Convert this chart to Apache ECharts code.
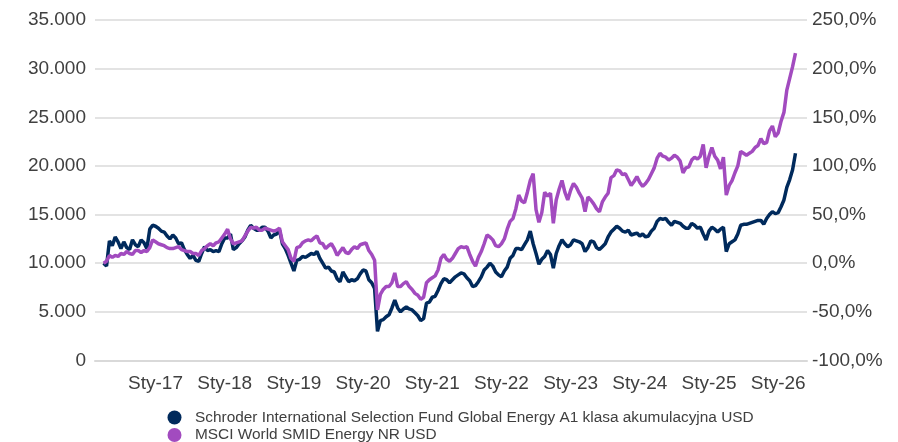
<!DOCTYPE html>
<html>
<head>
<meta charset="utf-8">
<script src="https://cdn.jsdelivr.net/npm/echarts@6/dist/echarts.min.js"></script>
<style>
html,body{margin:0;padding:0;background:#fff;}
#chart{width:898px;height:442px;}
</style>
</head>
<body>
<div id="chart"></div>
<script>
// semi-monthly points, Apr 2016 .. Apr 2026, value of 10 000 invested
var fund = [
  10000, 9700, 12300, 11800, 12700, 12200, 11500, 12200, 11600, 11400,
  12400, 11900, 11700, 12400, 12100, 11500, 13500, 13900, 13800, 13600,
  13300, 13200, 12800, 12500, 12900, 12600, 12000, 12100, 11400, 10900,
  10500, 10800, 10300, 10200, 11000, 11700, 11300, 11400, 11200, 11300,
  11200, 12000, 12600, 12600, 13000, 11400, 11600, 12000, 12300, 12700,
  13400, 13900, 13600, 13400, 13400, 13700, 13700, 13300, 12600, 12900,
  13000, 13400, 12000, 11500, 10800, 10000, 9200, 10300, 10400, 10700,
  10600, 10800, 11000, 10900, 11200, 10500, 10000, 9500, 9600, 9200,
  9100, 8400, 8100, 9100, 8600, 8100, 8300, 8200, 8400, 8900,
  9300, 9200, 8300, 8000, 7400, 3000, 4100, 4200, 4500, 4700,
  5400, 6200, 5400, 5000, 5300, 5500, 5300, 5200, 4900, 4600,
  4100, 4300, 5900, 6000, 6500, 6600, 7200, 7900, 8400, 8300,
  8000, 8300, 8600, 8800, 9000, 8900, 8500, 8200, 7600, 7700,
  8100, 8600, 9300, 9600, 10000, 9700, 9100, 8800, 8600, 9200,
  9600, 10500, 10800, 11500, 11500, 11400, 11900, 12400, 13300, 12000,
  11000, 9900, 10400, 10700, 11300, 10900, 9500, 11000, 11800, 12400,
  12000, 11700, 11900, 12400, 12300, 12200, 12000, 11200, 11600, 12300,
  12200, 11600, 11400, 11700, 12000, 12700, 13200, 13500, 13800, 13600,
  13300, 13200, 13400, 12900, 13000, 13100, 12800, 13000, 12700, 12800,
  13300, 13600, 14300, 14600, 14500, 14600, 14200, 13900, 14300, 14200,
  14100, 13800, 13600, 13600, 14100, 13900, 13600, 13700, 13000, 12400,
  13300, 13700, 13500, 13200, 13500, 13700, 11200, 12000, 12200, 12400,
  13000, 13900, 14000, 14000, 14100, 14200, 14300, 14400, 14400, 14000,
  14600, 15000, 15300, 15100, 15200, 15800, 16500, 17800, 18600, 19600,
  21300
];
var bench = [
  10000, 10200, 10800, 10600, 10800, 10700, 11000, 10900, 11200, 11000,
  10900, 11300, 11300, 11100, 11300, 11200, 11600, 12400, 12200, 12000,
  11900, 11800, 11600, 11500, 11500, 11600, 11700, 11400, 11300, 11200,
  11200, 11000, 11000, 10800, 11300, 11500, 11800, 12000, 11800, 12100,
  12200, 12600, 13000, 13500, 12500, 12000, 12100, 12200, 12300, 12800,
  13300, 13700, 13600, 13700, 13400, 13400, 13600, 13500, 13400, 13300,
  13400, 13600, 12200, 11800, 11400, 10500, 10200, 11600, 11700, 12100,
  12300, 12400, 12300, 12600, 12800, 12100, 12000, 11500, 11800, 12000,
  11500, 10800, 11200, 11600, 11100, 11000, 11400, 11700, 11500, 11900,
  12000, 12100, 11300, 10900, 10300, 5200, 6800, 7300, 7600, 7600,
  8000, 9000, 7600, 7600, 7900, 8100, 7600, 7300, 6900, 6700,
  6300, 6500, 8000, 8300, 8500, 8700, 9300, 10500, 10900, 10400,
  10200, 10500, 11000, 11500, 11700, 11600, 11700, 10900, 10200, 9700,
  10600, 11200, 12000, 12900, 12700, 12400, 11800, 11700, 12000, 12500,
  13500, 14300, 14600, 15600, 17000, 16400, 16200, 17300, 18500, 19200,
  15500, 14200, 15200, 17300, 16900, 17200, 14100, 16500, 17600, 18500,
  17300, 16500, 17500, 18200, 17800, 17200, 16700, 15300, 16800, 16500,
  16100, 15600, 15300, 16300, 16800, 17200, 18800, 19000, 19600, 19500,
  19100, 19200, 18600, 18000, 18400, 18900, 18300, 17900, 18200, 18600,
  19200, 19800, 20800, 21300, 21000, 20900, 20600, 20800, 21100, 20900,
  20500, 19300, 19800, 19900, 20600, 20900, 20700, 21000, 22200, 19800,
  21000, 21900, 21000, 20600, 19700, 20900, 17000, 18000, 18500, 19300,
  20000, 21500, 21300, 21100, 21300, 21500, 21900, 22100, 22800, 22300,
  22400, 23600, 24100, 23000, 23400, 24600, 25500, 27800, 29000, 30200,
  31600
];
var tickLabels = ['Sty-17','Sty-18','Sty-19','Sty-20','Sty-21','Sty-22','Sty-23','Sty-24','Sty-25','Sty-26'];
var seriesNames = [
  'Schroder International Selection Fund Global Energy A1 klasa akumulacyjna USD',
  'MSCI World SMID Energy NR USD'
];
var colors = ['#002a5c', '#a24bbf'];

var startYear = 2016, startMonth = 4, padBefore = 3, padAfter = 4;
function two(n){ return n < 10 ? '0' + n : '' + n; }
var categories = [];
for (var k = -padBefore; k < fund.length + padAfter; k++) {
  var m = startMonth - 1 + Math.floor(k / 2);
  var y = startYear + Math.floor(m / 12);
  var mm = ((m % 12) + 12) % 12 + 1;
  var d = (((k % 2) + 2) % 2 === 0) ? '01' : '15';
  categories.push(y + '-' + two(mm) + '-' + d);
}
function padded(arr){
  var out = [];
  for (var i = 0; i < padBefore; i++) out.push(null);
  out = out.concat(arr);
  for (var j = 0; j < padAfter; j++) out.push(null);
  return out;
}

var font = "'Liberation Sans', Arial, sans-serif";
var txt = '#404040';
function legendFor(name, top){
  return {
    orient: 'horizontal', left: 167.5, top: top, padding: 0,
    itemWidth: 14, itemHeight: 14, icon: 'circle',
    textStyle: { fontFamily: font, fontSize: 15.4, lineHeight: 14, color: txt, padding: [0, 0, 0, 8.5] },
    data: [name]
  };
}
var myChart = echarts.init(document.getElementById('chart'));
myChart.setOption({
  animation: false,
  textStyle: { fontFamily: font },
  grid: { left: 95, right: 91, top: 20, bottom: 81.5 },
  legend: [legendFor(seriesNames[0], 410), legendFor(seriesNames[1], 427.5)],
  xAxis: {
    type: 'category',
    boundaryGap: false,
    data: categories,
    axisLine: { lineStyle: { color: '#d9d9d9', width: 2 } },
    axisTick: { show: false },
    splitLine: { show: false },
    axisLabel: {
      color: txt, fontSize: 19, margin: 14,
      interval: function(idx, val){ return val.slice(5) === '01-01'; },
      formatter: function(val){ return tickLabels[+val.slice(0, 4) - 2017] || ''; }
    }
  },
  yAxis: [{
    type: 'value', min: 0, max: 35000, interval: 5000,
    axisLine: { show: false }, axisTick: { show: false },
    splitLine: { lineStyle: { color: '#e3e3e3', width: 2 } },
    axisLabel: {
      color: txt, fontSize: 19, margin: 9,
      formatter: function(v){ return v === 0 ? '0' : (v / 1000) + '.000'; }
    }
  }, {
    type: 'value', min: -100, max: 250, interval: 50,
    axisLine: { show: false }, axisTick: { show: false },
    splitLine: { show: false },
    axisLabel: {
      color: txt, fontSize: 19, margin: 5,
      formatter: function(v){ return v.toFixed(1).replace('.', ',') + '%'; }
    }
  }],
  series: [{
    name: seriesNames[0], type: 'line', yAxisIndex: 0,
    data: padded(fund), showSymbol: false, symbol: 'circle',
    itemStyle: { color: colors[0] },
    lineStyle: { color: colors[0], width: 3.5 }
  }, {
    name: seriesNames[1], type: 'line', yAxisIndex: 0,
    data: padded(bench), showSymbol: false, symbol: 'circle',
    itemStyle: { color: colors[1] },
    lineStyle: { color: colors[1], width: 3.5 }
  }]
});
</script>
</body>
</html>
